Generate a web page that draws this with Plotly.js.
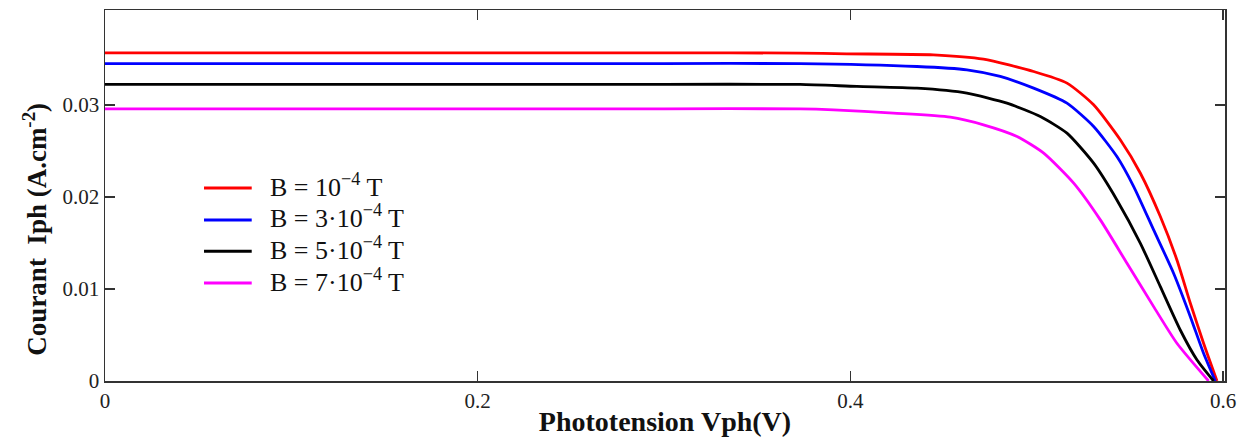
<!DOCTYPE html>
<html>
<head>
<meta charset="utf-8">
<script src="https://cdn.plot.ly/plotly-3.0.1.min.js"></script>
<style>html,body{margin:0;padding:0;background:#fff;}#chart{width:1253px;height:437px;}</style>
</head>
<body>
<div id="chart"></div>
<script>
// Phototension Vph (V) and photocurrent Iph (A/cm2) for each magnetic field value
const vRed = [0, 0.10, 0.20, 0.30, 0.373, 0.398, 0.4445, 0.4714, 0.4983, 0.5162, 0.5305, 0.5448, 0.5556, 0.5663, 0.5752, 0.5824, 0.5895, 0.5967];
const iRed = [0.03565, 0.03565, 0.03565, 0.03565, 0.03562, 0.03554, 0.03543, 0.03496, 0.03362, 0.03236, 0.0300, 0.0262, 0.02257, 0.01786, 0.01315, 0.00845, 0.0041, 0];

const vBlue = [0, 0.10, 0.20, 0.30, 0.373, 0.4357, 0.4625, 0.4804, 0.4983, 0.5162, 0.5305, 0.543, 0.552, 0.5627, 0.5734, 0.5824, 0.5895, 0.5958];
const iBlue = [0.03448, 0.03448, 0.03448, 0.03448, 0.03448, 0.03416, 0.0338, 0.03308, 0.03181, 0.03018, 0.02765, 0.02438, 0.02112, 0.01641, 0.01171, 0.00699, 0.00301, 0];

const vBlack = [0, 0.10, 0.20, 0.30, 0.373, 0.4035, 0.4357, 0.4625, 0.484, 0.5019, 0.5162, 0.5305, 0.543, 0.5556, 0.5663, 0.577, 0.586, 0.5949];
const iBlack = [0.03222, 0.03222, 0.03222, 0.03222, 0.03222, 0.0320, 0.03181, 0.03127, 0.03018, 0.02873, 0.02692, 0.02366, 0.01967, 0.01496, 0.01025, 0.00554, 0.00228, 0];

const vMag = [0, 0.10, 0.20, 0.30, 0.373, 0.391, 0.4231, 0.4536, 0.4714, 0.4894, 0.5037, 0.5198, 0.5341, 0.5484, 0.5627, 0.5752, 0.5922];
const iMag = [0.02957, 0.02957, 0.02957, 0.02957, 0.02957, 0.02946, 0.0291, 0.02866, 0.02783, 0.02656, 0.02475, 0.02149, 0.0175, 0.01279, 0.00808, 0.0041, 0];

const seriesNames = [
  'B = 10<sup>\u22124</sup> T',
  'B =\u00a03\u00b710<sup>\u22124</sup> T',
  'B =\u00a05\u00b710<sup>\u22124</sup> T',
  'B =\u00a07\u00b710<sup>\u22124</sup> T'
];
const seriesColors = ['#ff0000', '#0000ff', '#000000', '#ff00ff'];

const xTicks = [0, 0.2, 0.4, 0.6];
const xTickText = ['0', '0.2', '0.4', '0.6'];
const yTicks = [0, 0.01, 0.02, 0.03];
const yTickText = ['0', '0.01', '0.02', '0.03'];

const xs = [vRed, vBlue, vBlack, vMag];
const ys = [iRed, iBlue, iBlack, iMag];

const traces = xs.map((x, k) => ({
  x: x, y: ys[k], type: 'scatter', mode: 'lines',
  name: seriesNames[k], showlegend: false,
  line: {color: seriesColors[k], width: 2.8, shape: 'spline', smoothing: 0.6}
}));

const serif = 'Liberation Serif, Times New Roman, serif';

// legend block (paper coordinates): swatch + label per series
const legRowY = [0.520, 0.434, 0.350, 0.264];
const shapes = [];
const annotations = [];
seriesNames.forEach((nm, k) => {
  shapes.push({type: 'line', xref: 'paper', yref: 'paper',
    x0: 0.0884, x1: 0.131, y0: legRowY[k], y1: legRowY[k],
    line: {color: seriesColors[k], width: 3}});
  annotations.push({xref: 'paper', yref: 'paper', x: 0.1455, y: legRowY[k],
    xanchor: 'left', yanchor: 'middle', yshift: 3, showarrow: false,
    text: nm, font: {family: serif, size: 26, color: '#111'}});
});

const layout = {
  width: 1253, height: 437,
  margin: {l: 105, r: 28, t: 10, b: 56},
  paper_bgcolor: '#fff', plot_bgcolor: '#fff',
  showlegend: false,
  shapes: shapes,
  annotations: annotations,
  xaxis: {
    range: [0, 0.601], tickvals: xTicks, ticktext: xTickText,
    ticks: 'inside', ticklen: 10, tickwidth: 1.5, tickcolor: '#333',
    showline: true, linecolor: '#333', linewidth: 1.5, mirror: 'allticks',
    showgrid: false, zeroline: false,
    tickfont: {family: serif, size: 21, color: '#222'},
    title: {text: '<b>Phototension Vph(V)</b>', font: {family: serif, size: 28, color: '#111'}, standoff: 0}
  },
  yaxis: {
    range: [0, 0.0403], tickvals: yTicks, ticktext: yTickText,
    ticks: 'inside', ticklen: 10, tickwidth: 1.5, tickcolor: '#333',
    showline: true, linecolor: '#333', linewidth: 1.5, mirror: 'allticks',
    showgrid: false, zeroline: false,
    tickfont: {family: serif, size: 21, color: '#222'},
    title: {text: '<b>Courant  Iph (A.cm<sup>-2</sup>)\u00a0\u00a0\u00a0\u00a0\u00a0\u00a0\u00a0\u00a0\u00a0\u00a0</b>', font: {family: serif, size: 27, color: '#111'}, standoff: 8}
  }
};

Plotly.newPlot('chart', traces, layout, {displayModeBar: false, staticPlot: true});
</script>
</body>
</html>
